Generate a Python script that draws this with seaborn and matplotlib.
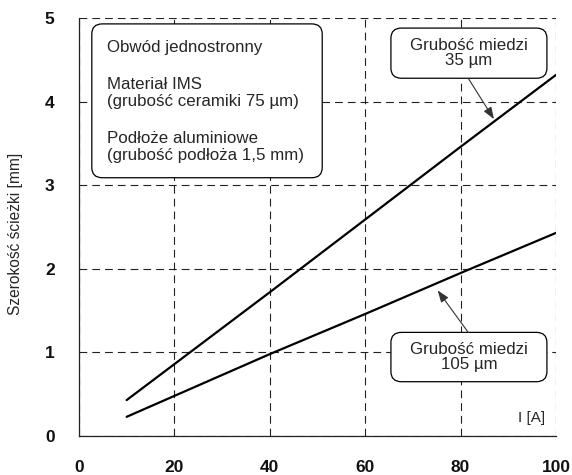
import numpy as np
import pandas as pd
import seaborn as sns
import matplotlib.pyplot as plt
from matplotlib.patches import FancyBboxPatch
from matplotlib.ticker import MultipleLocator

# Current [A] versus required track width [mm] for two copper thicknesses
current_35 = [10, 20, 40, 60, 80, 100]
width_35 = [0.43, 0.86, 1.72, 2.59, 3.46, 4.32]
current_105 = [10, 20, 40, 60, 80, 100]
width_105 = [0.23, 0.48, 0.98, 1.46, 1.95, 2.43]

label_35 = "Grubość miedzi\n35 µm"
label_105 = "Grubość miedzi\n105 µm"
info_lines = ["Obwód jednostronny", "Materiał IMS", "(grubość ceramiki 75 µm)",
              "Podłoże aluminiowe", "(grubość podłoża 1,5 mm)"]
x_ticks = [0, 20, 40, 60, 80, 100]
y_ticks = [0, 1, 2, 3, 4, 5]

df = pd.concat([
    pd.DataFrame({"I": current_35, "w": width_35, "cu": "35"}),
    pd.DataFrame({"I": current_105, "w": width_105, "cu": "105"}),
])

sns.set_style("white")
plt.rcParams["font.family"] = ["Liberation Sans", "DejaVu Sans"]

fig = plt.figure(figsize=(5.72, 4.75), dpi=100)
ax = fig.add_axes([0.138, 0.082, 0.834, 0.880])

sns.lineplot(data=df, x="I", y="w", units="cu", estimator=None, color="black",
             lw=1.6, ax=ax, legend=False, zorder=3)

ax.set_xlim(0, 100)
ax.set_ylim(0, 5)
ax.set_xticks(x_ticks)
ax.set_yticks(y_ticks)
ax.xaxis.set_minor_locator(MultipleLocator(10))
ax.yaxis.set_minor_locator(MultipleLocator(0.5))

dash = (0, (7, 4.5))
ax.grid(True, which="major", color="#222222", lw=0.8, linestyle=dash, zorder=1)

for side in ("top", "right"):
    ax.spines[side].set_visible(False)
for side in ("left", "bottom"):
    ax.spines[side].set_color("#222222")
    ax.spines[side].set_linewidth(0.9)

ax.tick_params(axis="both", which="major", direction="out", length=10.5, width=0.9,
               color="#222222", labelsize=12.5)
ax.tick_params(axis="both", which="minor", direction="out", length=5.5, width=0.9,
               color="#222222")
ax.tick_params(axis="x", which="major", pad=7)
ax.tick_params(axis="y", which="major", pad=7)
for lab in ax.get_xticklabels() + ax.get_yticklabels():
    lab.set_fontweight("bold")
    lab.set_color("#111111")

ax.set_xlabel("")
ax.set_ylabel("Szerokość ścieżki [mm]", fontsize=11.2)
ax.yaxis.set_label_coords(-0.118, 0.483)

# Information box in the upper left
box = FancyBboxPatch((2.7, 3.09), 48.3, 1.84,
                     boxstyle="round,pad=0,rounding_size=2.2",
                     mutation_aspect=0.055, fc="white", ec="black", lw=0.9, zorder=4)
ax.add_patch(box)
info_y = [4.65, 4.21, 4.00, 3.56, 3.36]
for t, yy in zip(info_lines, info_y):
    ax.text(5.9, yy, t, fontsize=12.2, va="center", ha="left", zorder=5)

# Labelled callouts for the two curves
def callout(x0, y0, w, h, text):
    b = FancyBboxPatch((x0, y0), w, h, boxstyle="round,pad=0,rounding_size=2.2",
                       mutation_aspect=0.055, fc="white", ec="black", lw=0.9, zorder=4)
    ax.add_patch(b)
    ax.text(x0 + w / 2, y0 + h / 2, text, fontsize=12.2, ha="center", va="center",
            linespacing=1.05, zorder=5)

callout(65.4, 4.28, 32.7, 0.60, label_35)
callout(65.4, 0.65, 32.7, 0.59, label_105)

arrow_kw = dict(arrowstyle="-|>,head_length=0.6,head_width=0.22", color="#333333",
                lw=0.8, shrinkA=0, shrinkB=0, mutation_scale=12)
x_tip1 = 87.0
ax.annotate("", xy=(x_tip1, np.interp(x_tip1, current_35, width_35) + 0.03),
            xytext=(81.6, 4.28), arrowprops=arrow_kw, zorder=6)
x_tip2 = 75.2
ax.annotate("", xy=(x_tip2, np.interp(x_tip2, current_105, width_105) - 0.09),
            xytext=(81.6, 1.24), arrowprops=arrow_kw, zorder=6)

ax.text(97.7, 0.22, "I [A]", fontsize=11, ha="right", va="center")

fig.savefig("out.png", dpi=100)
